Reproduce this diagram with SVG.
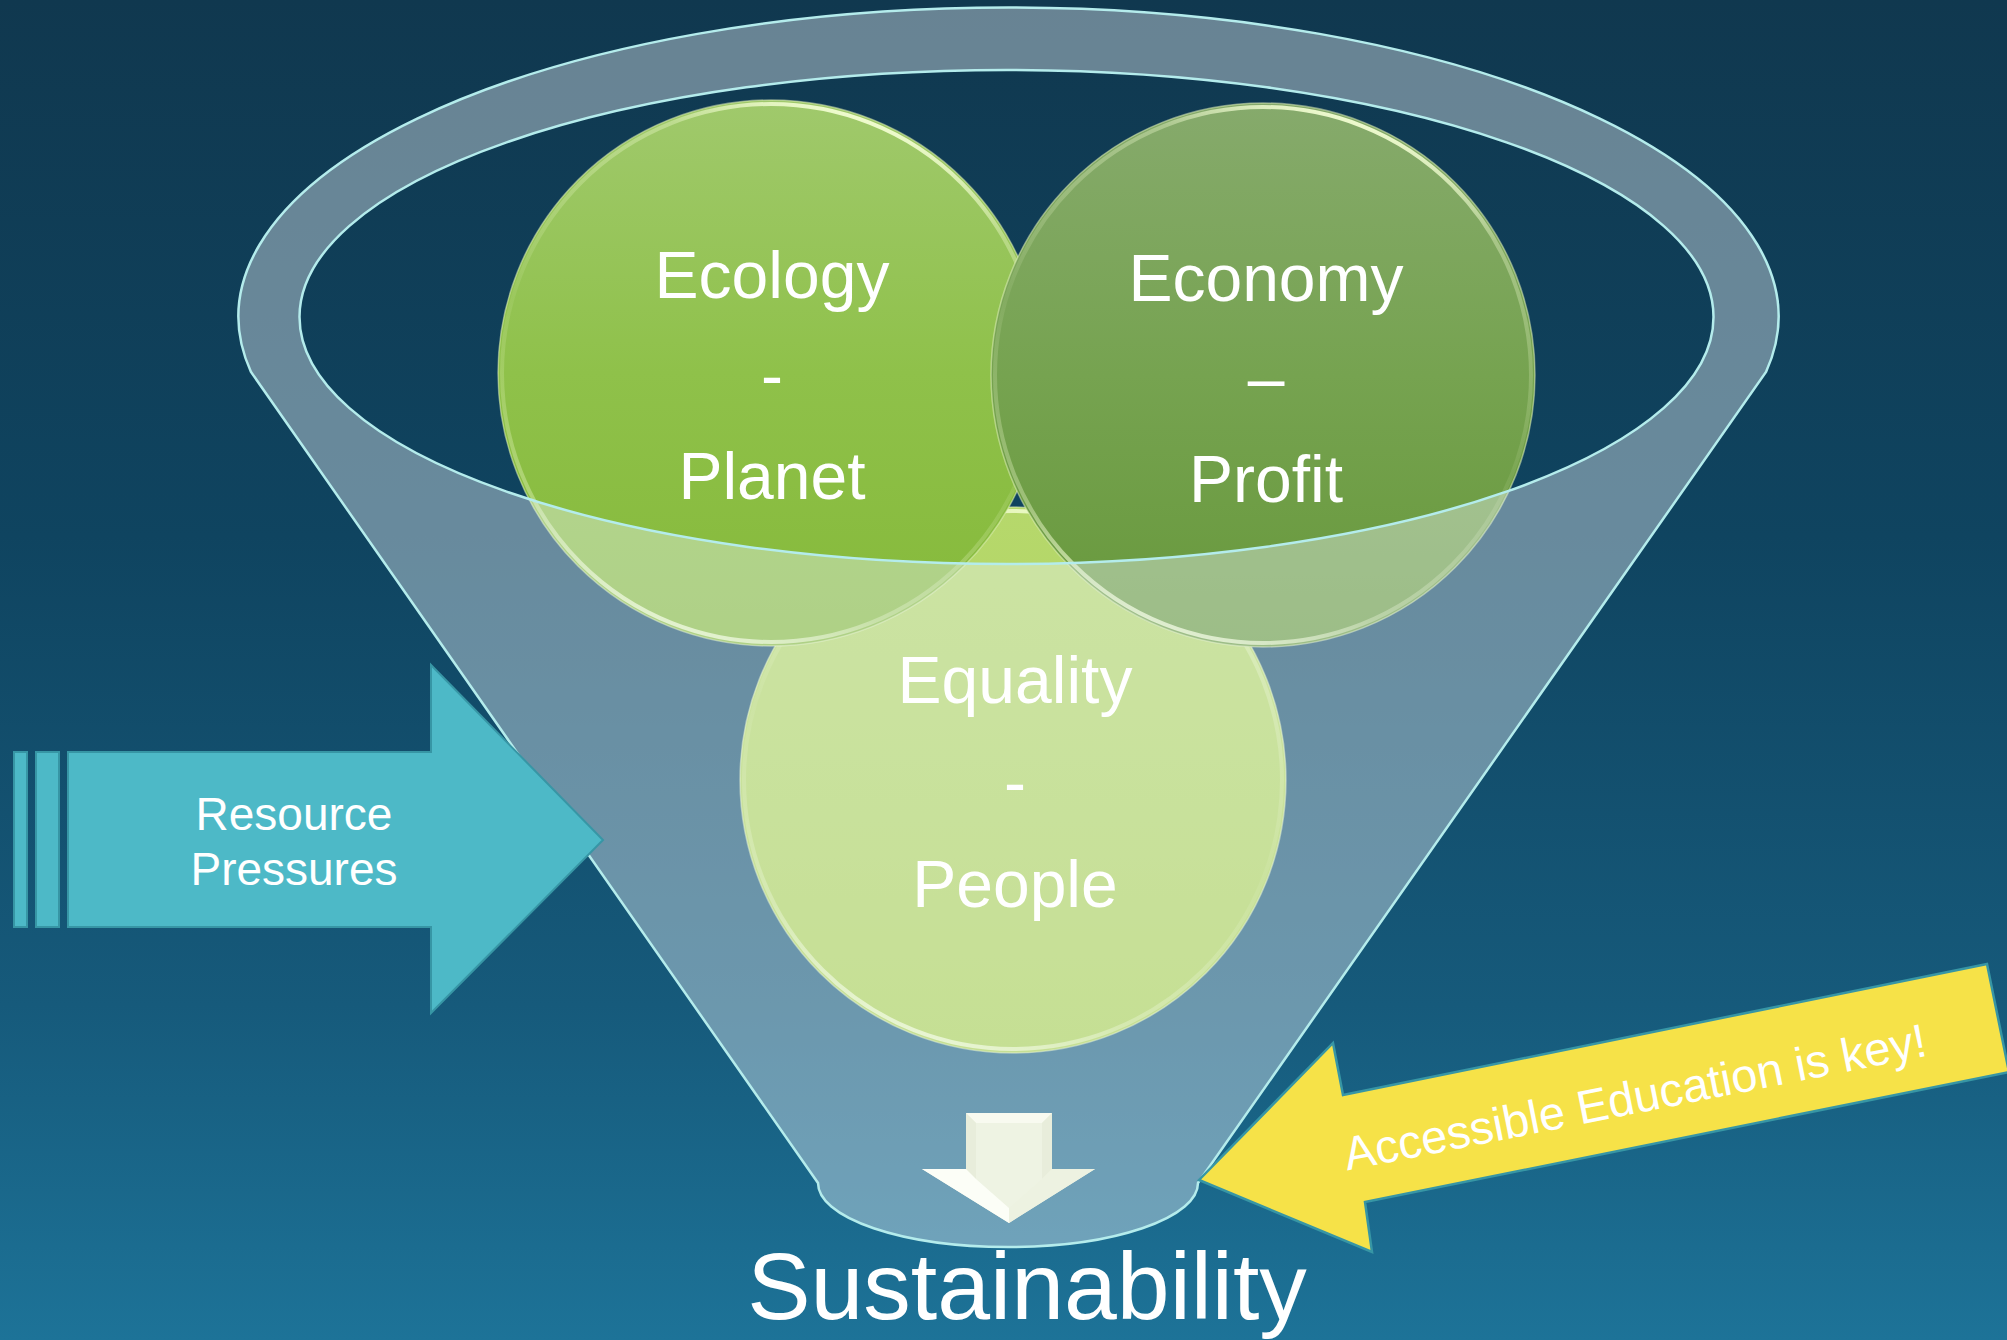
<svg xmlns="http://www.w3.org/2000/svg" width="2007" height="1340" viewBox="0 0 2007 1340">
<defs>
<linearGradient id="bg" x1="0" y1="0" x2="0" y2="1">
<stop offset="0" stop-color="#10384f"/>
<stop offset="0.4" stop-color="#0f4460"/>
<stop offset="0.75" stop-color="#165a7b"/>
<stop offset="1" stop-color="#1d7398"/>
</linearGradient>
<linearGradient id="gEco" x1="0" y1="0" x2="0" y2="1">
<stop offset="0" stop-color="#a0c96c"/>
<stop offset="0.5" stop-color="#8fc14a"/>
<stop offset="1" stop-color="#85b939"/>
</linearGradient>
<linearGradient id="gEcon" x1="0" y1="0" x2="0" y2="1">
<stop offset="0" stop-color="#86aa6c"/>
<stop offset="0.5" stop-color="#76a350"/>
<stop offset="1" stop-color="#67983b"/>
</linearGradient>
<linearGradient id="gEq" x1="0" y1="0" x2="0" y2="1">
<stop offset="0" stop-color="#b6d86c"/>
<stop offset="1" stop-color="#abd150"/>
</linearGradient>
<linearGradient id="rim" x1="0.6" y1="0" x2="0.25" y2="1">
<stop offset="0" stop-color="#f4ffd4" stop-opacity="0.95"/>
<stop offset="0.12" stop-color="#f4ffd4" stop-opacity="0.35"/>
<stop offset="0.5" stop-color="#f4ffd4" stop-opacity="0.08"/>
<stop offset="0.82" stop-color="#f4ffd4" stop-opacity="0.35"/>
<stop offset="1" stop-color="#f4ffd4" stop-opacity="0.95"/>
</linearGradient>
<style>
.lbl{font-family:"Liberation Sans",Arial,sans-serif;fill:#ffffff;text-anchor:middle;}
.big{font-size:66px;}
.edge{fill:none;stroke:#e6f5c0;stroke-opacity:0.5;stroke-width:1.5;}
.rim{fill:none;stroke:url(#rim);stroke-width:4;}
.funnel{fill:#eef6fa;fill-opacity:0.4;fill-rule:evenodd;stroke:#b4ecec;stroke-width:2.5;}
.teal{fill:#4db9c7;stroke:#3796a5;stroke-width:2;}
</style>
</defs>
<rect id="background" x="0" y="0" width="2007" height="1340" fill="url(#bg)"/>

<g id="node-equality">
<circle cx="1013" cy="780" r="273" fill="url(#gEq)"/>
<circle class="edge" cx="1013" cy="780" r="273"/>
<circle class="rim" cx="1013" cy="780" r="269"/>
</g>
<g id="node-ecology">
<circle cx="771" cy="373" r="273" fill="url(#gEco)"/>
<circle class="edge" cx="771" cy="373" r="273"/>
<circle class="rim" cx="771" cy="373" r="269"/>
</g>
<g id="node-economy">
<circle cx="1263" cy="375" r="272" fill="url(#gEcon)"/>
<circle class="edge" cx="1263" cy="375" r="272"/>
<circle class="rim" cx="1263" cy="375" r="268"/>
</g>

<g id="funnel">
<path class="funnel" d="M 251 372 A 770 309 0 1 1 1766 372 L 1198 1183 A 190 64 0 0 1 818 1183 Z M 299.5 317 A 707 247 0 1 0 1713.5 317 A 707 247 0 1 0 299.5 317 Z"/>
</g>

<g id="label-ecology">
<text class="lbl big" x="772" y="298">Ecology</text>
<text class="lbl big" x="772" y="398">-</text>
<text class="lbl big" x="772" y="499">Planet</text>
</g>
<g id="label-economy">
<text class="lbl big" x="1266" y="301">Economy</text>
<text class="lbl big" x="1266" y="401">–</text>
<text class="lbl big" x="1266" y="502">Profit</text>
</g>
<g id="label-equality">
<text class="lbl big" x="1015" y="703">Equality</text>
<text class="lbl big" x="1015" y="805">-</text>
<text class="lbl big" x="1015" y="907">People</text>
</g>

<g id="connectors">
<polygon points="966,1113 1052,1113 1052,1169 1095,1169 1009,1223 922,1169 966,1169" fill="#eef3e3"/>
<polygon points="966,1113 1052,1113 1042,1123 976,1123" fill="#f8faf0"/>
<polygon points="966,1113 976,1123 976,1179 966,1169" fill="#e8eddb"/>
<polygon points="1052,1113 1052,1169 1042,1179 1042,1123" fill="#e8eddb"/>
<polygon points="922,1169 966,1169 976,1179 1009,1208 1009,1223" fill="#fcfef7"/>
<polygon points="1095,1169 1052,1169 1042,1179 1009,1208 1009,1223" fill="#edf2e1"/>
</g>

<g id="node-resource">
<rect class="teal" x="14" y="752" width="13" height="175"/>
<rect class="teal" x="36" y="752" width="23" height="175"/>
<polygon class="teal" points="68,752 431,752 431,665 603,840 431,1013 431,927 68,927"/>
<text class="lbl" x="294" y="830" font-size="46">Resource</text>
<text class="lbl" x="294" y="885" font-size="46">Pressures</text>
</g>

<g id="node-education">
<polygon points="1199,1180 1333,1043 1343,1095 1987,964 2009,1072 1365,1202 1372,1252" fill="#f6e248" stroke="#3796a5" stroke-width="2.5"/>
<text class="lbl" x="1638" y="1113" font-size="47" transform="rotate(-11.2 1638 1113)">Accessible Education is key!</text>
</g>

<g id="node-sustainability">
<text class="lbl" x="1027" y="1319" font-size="95">Sustainability</text>
</g>
</svg>
